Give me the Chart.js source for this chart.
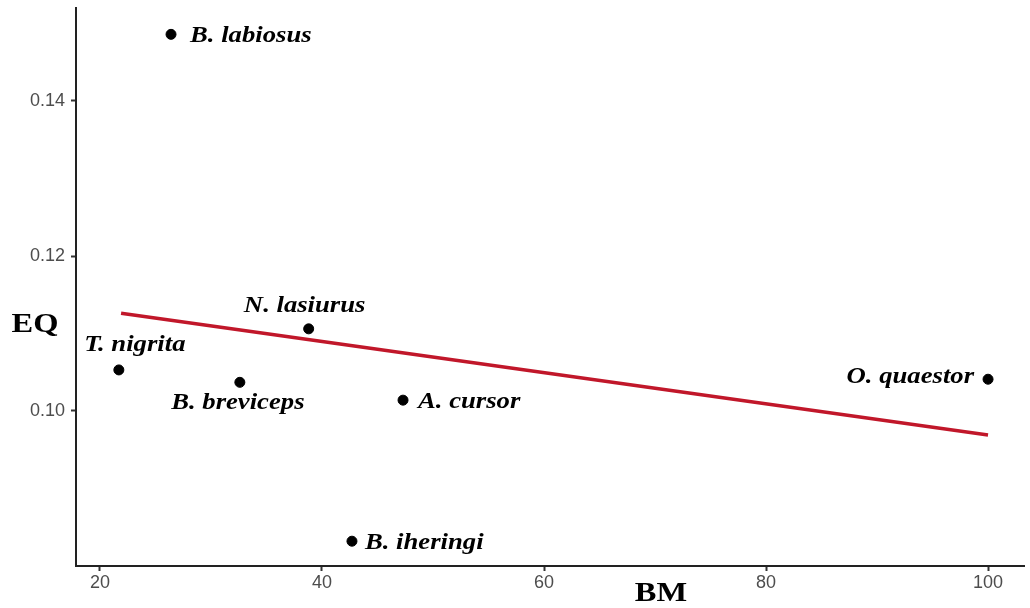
<!DOCTYPE html>
<html>
<head>
<meta charset="utf-8">
<script src="https://cdn.jsdelivr.net/npm/chart.js@4.4.1/dist/chart.umd.min.js"></script>
<style>
html,body{margin:0;padding:0;background:#fff;}
#wrap{width:1030px;height:608px;position:relative;}
</style>
</head>
<body>
<div id="wrap"><canvas id="c" width="1030" height="608"></canvas></div>
<script>
// Data
const species = ["B. labiosus","N. lasiurus","T. nigrita","B. breviceps","A. cursor","B. iheringi","O. quaestor"];
const bm = [26.4, 38.8, 21.7, 32.6, 47.3, 42.7, 100.0];
const eq = [0.1486, 0.1106, 0.1053, 0.1037, 0.1014, 0.0832, 0.1041];
const fitBM = [21.9, 100.0];
const fitEQ = [0.1126, 0.0969];
const xTicks = [20, 40, 60, 80, 100];
const yTicks = [0.10, 0.12, 0.14];

// label placement (style): dx, dy in px, align
const labelPlace = [
  {dx:19, dy:2, align:'left'},
  {dx:-4, dy:-23, align:'center'},
  {dx:16, dy:-25, align:'center'},
  {dx:-2, dy:21, align:'center'},
  {dx:15, dy:2, align:'left'},
  {dx:13, dy:2, align:'left'},
  {dx:-14, dy:-2, align:'right'}
];
const SX = 1.16;

function drawStretched(ctx, text, x, y, align){
  ctx.save();
  ctx.translate(x, y);
  ctx.scale(SX, 1);
  ctx.textAlign = align;
  ctx.textBaseline = 'middle';
  ctx.fillText(text, 0, 0);
  ctx.restore();
}

const textPlugin = {
  id: 'textPlugin',
  afterDatasetsDraw(chart){
    const ctx = chart.ctx;
    const meta = chart.getDatasetMeta(1);
    ctx.save();
    ctx.fillStyle = '#000';
    ctx.font = 'italic bold 23px "Liberation Serif", serif';
    meta.data.forEach((pt, i) => {
      const p = labelPlace[i];
      drawStretched(ctx, species[i], pt.x + p.dx, pt.y + p.dy, p.align);
    });
    ctx.font = 'bold 28px "Liberation Serif", serif';
    drawStretched(ctx, 'EQ', 35, 325, 'center');
    drawStretched(ctx, 'BM', 661, 594, 'center');
    ctx.restore();
  }
};

const xy = (xs, ys) => xs.map((x, i) => ({x: x, y: ys[i]}));

new Chart(document.getElementById('c'), {
  type: 'scatter',
  data: {
    datasets: [
      {
        type: 'line',
        data: xy(fitBM, fitEQ),
        borderColor: '#c1172a',
        borderWidth: 3.5,
        pointRadius: 0,
        fill: false,
        order: 2
      },
      {
        data: xy(bm, eq),
        backgroundColor: '#000',
        borderColor: '#000',
        pointRadius: 5,
        pointHoverRadius: 5,
        order: 1
      }
    ]
  },
  options: {
    responsive: false,
    animation: false,
    devicePixelRatio: 1,
    layout: {padding: {top: 8, right: 0, left: 0, bottom: 0}},
    plugins: {legend: {display: false}, tooltip: {enabled: false}},
    scales: {
      x: {
        type: 'linear',
        min: 17.84,
        max: 103.24,
        afterBuildTicks: s => { s.ticks = xTicks.map(v => ({value: v})); },
        afterFit: s => { s.height = 42; s.paddingLeft = 0; s.paddingRight = 0; },
        grid: {drawOnChartArea: false, drawTicks: true, tickLength: 5, tickWidth: 2, color: '#333'},
        border: {display: true, color: '#222', width: 2},
        ticks: {color: '#4d4d4d', font: {family: '"Liberation Sans", Arial, sans-serif', size: 18}, padding: 1, maxRotation: 0,
          callback: v => String(v)}
      },
      y: {
        type: 'linear',
        min: 0.0800,
        max: 0.1520,
        afterBuildTicks: s => { s.ticks = yTicks.map(v => ({value: v})); },
        afterFit: s => { s.width = 76; s.paddingTop = 0; s.paddingBottom = 0; },
        grid: {drawOnChartArea: false, drawTicks: true, tickLength: 5, tickWidth: 2, color: '#333'},
        border: {display: true, color: '#222', width: 2},
        ticks: {color: '#4d4d4d', font: {family: '"Liberation Sans", Arial, sans-serif', size: 18}, padding: 6,
          callback: v => v.toFixed(2)}
      }
    }
  },
  plugins: [textPlugin]
});
</script>
</body>
</html>
